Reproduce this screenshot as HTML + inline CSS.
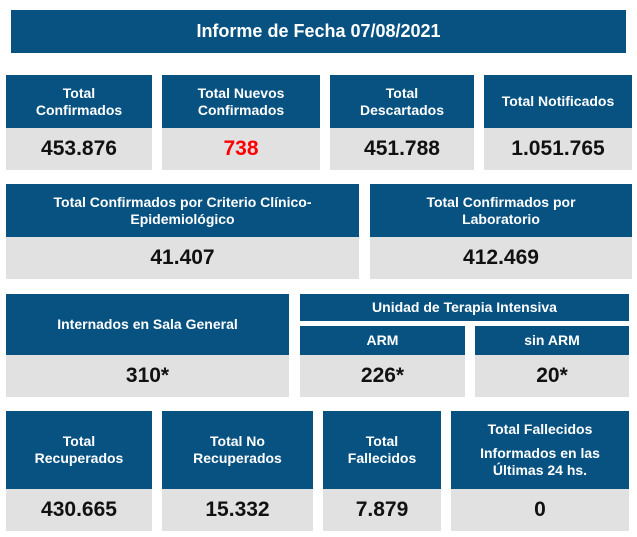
<!DOCTYPE html><html><head><style>
body{margin:0;width:637px;height:537px;background:#fff;font-family:"Liberation Sans",sans-serif;font-weight:bold;position:relative;overflow:hidden}
.b{position:absolute;background:#085282;color:#fff;display:flex;flex-direction:column;align-items:center;justify-content:center;text-align:center;font-size:14px;line-height:17px}
.v{position:absolute;background:#e1e1e1;color:#111;display:flex;align-items:center;justify-content:center;font-size:21px}
</style></head><body>
<div class="b" style="left:11px;top:10px;width:615px;height:43px;font-size:18px">Informe de Fecha 07/08/2021</div>

<div class="b" style="left:6px;top:75px;width:146px;height:53px">Total<br>Confirmados</div>
<div class="v" style="left:6px;top:128px;width:146px;height:42px">453.876</div>
<div class="b" style="left:162px;top:75px;width:158px;height:53px">Total Nuevos<br>Confirmados</div>
<div class="v" style="left:162px;top:128px;width:158px;height:42px;color:#f00">738</div>
<div class="b" style="left:330px;top:75px;width:144px;height:53px">Total<br>Descartados</div>
<div class="v" style="left:330px;top:128px;width:144px;height:42px">451.788</div>
<div class="b" style="left:484px;top:75px;width:148px;height:53px">Total Notificados</div>
<div class="v" style="left:484px;top:128px;width:148px;height:42px">1.051.765</div>

<div class="b" style="left:6px;top:184px;width:353px;height:53px">Total Confirmados por Criterio Clínico-<br>Epidemiológico</div>
<div class="v" style="left:6px;top:237px;width:353px;height:42px">41.407</div>
<div class="b" style="left:370px;top:184px;width:262px;height:53px">Total Confirmados por<br>Laboratorio</div>
<div class="v" style="left:370px;top:237px;width:262px;height:42px">412.469</div>

<div class="b" style="left:6px;top:294px;width:283px;height:61px">Internados en Sala General</div>
<div class="v" style="left:6px;top:355px;width:283px;height:42px">310*</div>
<div class="b" style="left:300px;top:294px;width:329px;height:27px">Unidad de Terapia Intensiva</div>
<div class="b" style="left:300px;top:326px;width:165px;height:29px">ARM</div>
<div class="v" style="left:300px;top:355px;width:165px;height:42px">226*</div>
<div class="b" style="left:475px;top:326px;width:154px;height:29px">sin ARM</div>
<div class="v" style="left:475px;top:355px;width:154px;height:42px">20*</div>

<div class="b" style="left:6px;top:411px;width:146px;height:78px">Total<br>Recuperados</div>
<div class="v" style="left:6px;top:489px;width:146px;height:42px">430.665</div>
<div class="b" style="left:162px;top:411px;width:151px;height:78px">Total No<br>Recuperados</div>
<div class="v" style="left:162px;top:489px;width:151px;height:42px">15.332</div>
<div class="b" style="left:323px;top:411px;width:118px;height:78px">Total<br>Fallecidos</div>
<div class="v" style="left:323px;top:489px;width:118px;height:42px">7.879</div>
<div class="b" style="left:451px;top:411px;width:178px;height:78px"><div>Total Fallecidos</div><div style="margin-top:7px">Informados en las<br>Últimas 24 hs.</div></div>
<div class="v" style="left:451px;top:489px;width:178px;height:42px">0</div>
</body></html>
